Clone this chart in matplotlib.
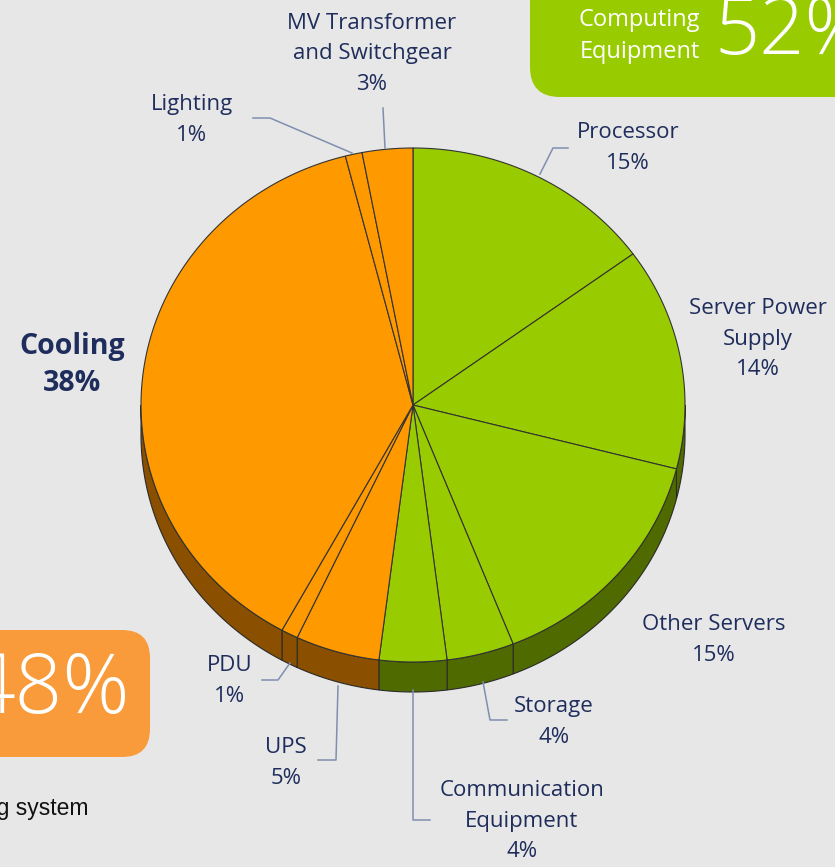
import numpy as np
import matplotlib.pyplot as plt
from matplotlib.patches import Polygon, FancyBboxPatch

# data
names = ['Processor', 'Server Power\nSupply', 'Other Servers', 'Storage',
         'Communication\nEquipment', 'UPS', 'PDU', 'Cooling', 'Lighting',
         'MV Transformer\nand Switchgear']
values = [15, 14, 15, 4, 4, 5, 1, 38, 1, 3]
groups = ['it', 'it', 'it', 'it', 'it', 'fac', 'fac', 'fac', 'fac', 'fac']
group_totals = {'it': 52, 'fac': 48}

top_col = {'it': '#99cc00', 'fac': '#ff9900'}
side_col = {'it': '#4f6b00', 'fac': '#8a5000'}
navy = '#1f2d5c'
bg = '#e7e7e7'

fig = plt.figure(figsize=(8.35, 8.67), dpi=100, facecolor=bg)
ax = fig.add_axes([0, 0, 1, 1])
ax.set_xlim(0, 835)
ax.set_ylim(867, 0)
ax.axis('off')
ax.set_facecolor(bg)

cx, cy, rx, ry, depth = 413, 405, 272, 257, 30


def rim(t):
    return cx + rx * np.sin(t), cy - ry * np.cos(t)


bounds = np.concatenate([[0], np.cumsum(values)]) / sum(values) * 2 * np.pi

# sides (lower half only)
for i in range(len(values)):
    a0, a1 = max(bounds[i], np.pi / 2), min(bounds[i + 1], 3 * np.pi / 2)
    if a1 <= a0:
        continue
    t = np.linspace(a0, a1, 80)
    x, y = rim(t)
    pts = np.column_stack([np.r_[x, x[::-1]], np.r_[y, y[::-1] + depth]])
    ax.add_patch(Polygon(pts, closed=True, fc=side_col[groups[i]],
                         ec='#2a2a2a', lw=0.8, zorder=2))

# top faces
for i in range(len(values)):
    t = np.linspace(bounds[i], bounds[i + 1], 120)
    x, y = rim(t)
    pts = np.column_stack([np.r_[cx, x], np.r_[cy, y]])
    ax.add_patch(Polygon(pts, closed=True, fc=top_col[groups[i]],
                         ec='#333333', lw=0.8, zorder=3))

# labels
lab_pos = [(628, 148), (758, 339), (714, 640), (554, 722), (522, 821),
           (286, 763), (230, 681), None, (192, 120), (372, 54)]
for n, v, p in zip(names, values, lab_pos):
    if p is None:
        continue
    ax.text(p[0], p[1], f'{n}\n{v}%', ha='center', va='center', fontsize=16,
            color=navy, linespacing=1.62, family='Open Sans', zorder=5)
ax.text(72, 365, f'Cooling\n{values[7]}%', ha='center', va='center', fontsize=20.5,
        fontweight='bold', color=navy, linespacing=1.35, family='Open Sans')

# leader lines
lc = '#7f8fae'
leaders = [
    ([540, 553, 568], [174, 148, 148]),
    ([483, 490, 507], [682, 720, 720]),
    ([413, 413, 430], [690, 820, 820]),
    ([338, 336, 318], [686, 760, 760]),
    ([290, 278, 262], [663, 680, 680]),
    ([352, 270, 253], [153, 118, 118]),
    ([385, 383], [148, 108]),
]
for lx, ly in leaders:
    ax.plot(lx, ly, color=lc, lw=1.1, zorder=4)

# summary boxes
ax.add_patch(FancyBboxPatch((530, -60), 400, 157, boxstyle='round,pad=0,rounding_size=30',
                            fc='#99cc00', ec='none', zorder=1))
ax.text(700, 36, 'Computing\nEquipment', ha='right', va='center', fontsize=17,
        color='white', linespacing=1.45, family='Open Sans', zorder=6)
ax.text(714, 33, f"{group_totals['it']}%", ha='left', va='center', fontsize=57,
        color='white', family='Open Sans', fontweight='light', zorder=6)

ax.add_patch(FancyBboxPatch((-100, 630), 250, 127, boxstyle='round,pad=0,rounding_size=28',
                            fc='#f99b3a', ec='none', zorder=1))
ax.text(130, 692, f"{group_totals['fac']}%", ha='right', va='center', fontsize=60,
        color='white', family='Open Sans', fontweight='light', zorder=6)
ax.text(88, 808, 'Cooling system', ha='right', va='center', fontsize=16.5,
        color='#111111', family='Liberation Sans', zorder=6)

fig.savefig('out.png', dpi=100, facecolor=bg)
